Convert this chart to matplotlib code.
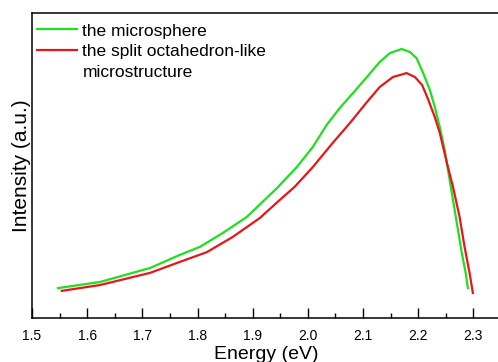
import numpy as np
import matplotlib
matplotlib.use("Agg")
import matplotlib.pyplot as plt
from matplotlib.lines import Line2D
from matplotlib.ticker import MultipleLocator

plt.rcParams['font.family'] = ['Liberation Sans', 'DejaVu Sans']

# values (intensity in arbitrary units, 0-100)
energy_sphere = [1.547, 1.623, 1.714, 1.768, 1.804, 1.846, 1.889, 1.944, 1.980,
                 2.009, 2.034, 2.058, 2.082, 2.107, 2.130, 2.149, 2.170, 2.185,
                 2.197, 2.208, 2.221, 2.230, 2.239, 2.248, 2.257, 2.270, 2.279,
                 2.286, 2.290]
intensity_sphere = [9.8, 11.8, 16.4, 20.7, 23.3, 27.9, 33.1, 42.6, 49.5,
                    56.1, 63.3, 68.9, 73.8, 79.0, 83.9, 86.9, 88.2, 87.2,
                    85.2, 80.7, 74.8, 69.2, 62.6, 55.1, 45.2, 31.1, 21.3,
                    14.8, 9.8]

energy_octa = [1.554, 1.623, 1.714, 1.768, 1.817, 1.864, 1.913, 1.949, 1.976,
               2.009, 2.045, 2.076, 2.107, 2.130, 2.154, 2.179, 2.194, 2.207,
               2.217, 2.230, 2.239, 2.252, 2.263, 2.275, 2.284, 2.293, 2.299]
intensity_octa = [8.9, 10.8, 14.8, 18.4, 21.6, 26.6, 32.8, 38.7, 43.0,
                  49.5, 57.4, 63.9, 70.8, 75.7, 79.0, 80.3, 79.0, 76.4,
                  72.1, 65.9, 60.7, 50.8, 43.0, 33.1, 23.3, 14.8, 8.2]

labels = ["the microsphere", "the split octahedron-like", "microstructure"]

fig = plt.figure(figsize=(4.98, 3.62), dpi=100)
ax = fig.add_axes([32 / 498, 44 / 362, 469 / 498, 305 / 362])

l1, = ax.plot(energy_sphere, intensity_sphere, color='#1ee01e', lw=1.6)
l2, = ax.plot(energy_octa, intensity_octa, color='#e8161b', lw=1.6)
blank = Line2D([], [], color='none')

ax.set_xlim(1.5, 2.35)
ax.set_ylim(0, 100)
ax.set_xticks([1.5, 1.6, 1.7, 1.8, 1.9, 2.0, 2.1, 2.2, 2.3])
ax.set_xticklabels(['1.5', '1.6', '1.7', '1.8', '1.9', '2.0', '2.1', '2.2', '2.3'])
ax.xaxis.set_minor_locator(MultipleLocator(0.05))
ax.tick_params(axis='x', which='major', direction='in', length=7.2, width=1.0,
               labelsize=10, pad=8)
ax.tick_params(axis='x', which='minor', direction='in', length=3.6, width=1.0)
ax.set_yticks([])
for s in ax.spines.values():
    s.set_linewidth(1.1)

ax.set_xlabel('Energy (eV)', fontsize=14, labelpad=2)
ax.set_ylabel('Intensity (a.u.)', fontsize=15, labelpad=0.5)

ax.legend([l1, l2, blank], labels, loc='upper left', bbox_to_anchor=(0, 0.983),
          frameon=False, fontsize=12.5, handlelength=2.3, handletextpad=0.3,
          borderaxespad=0, borderpad=0.3, labelspacing=0.33)

fig.savefig('out.png', dpi=100)
